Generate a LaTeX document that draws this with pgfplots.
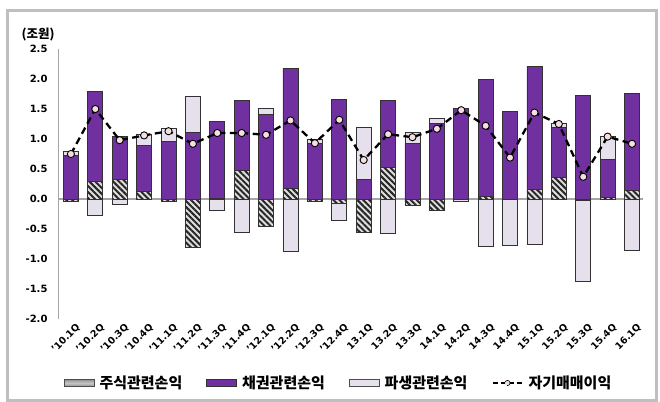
\documentclass[border=0pt]{standalone}
\usepackage{fontspec}
\setmainfont{DejaVu Sans}
\newfontfamily\kr{Noto Sans CJK KR}
\usepackage{pgfplots}
\pgfplotsset{compat=1.18}
\usepackage{pgfplotstable}
\usetikzlibrary{patterns.meta}
\definecolor{bondc}{RGB}{112,48,160}
\definecolor{derivc}{RGB}{230,224,236}
\definecolor{markc}{RGB}{245,222,222}
\definecolor{framec}{RGB}{191,191,191}
\definecolor{axisc}{RGB}{165,165,165}
\definecolor{edgec}{RGB}{50,50,50}

% sp/bp/dp: positive parts (stock, bond, derivatives); sn/dn: negative parts; tot: trading profit
\pgfplotstableread{
x sp bp dp sn dn tot
0 0 0.72 0.08 -0.04 0 0.75
1 0.29 1.50 0 0 -0.28 1.50
2 0.33 0.72 0 0 -0.09 0.98
3 0.13 0.76 0.18 0 0 1.06
4 0 0.96 0.22 -0.04 0 1.13
5 0 1.11 0.60 -0.80 0 0.92
6 0.01 1.28 0 0 -0.19 1.10
7 0.48 1.16 0 0 -0.55 1.10
8 0 1.41 0.10 -0.45 0 1.07
9 0.17 2.01 0 0 -0.87 1.31
10 0 0.92 0.07 -0.04 0 0.93
11 0 1.66 0 -0.08 -0.28 1.32
12 0 0.33 0.86 -0.55 0 0.65
13 0.53 1.11 0 0 -0.57 1.08
14 0 0.92 0.19 -0.10 0 1.03
15 0 1.26 0.08 -0.19 0 1.17
16 0 1.51 0 0 -0.04 1.48
17 0.05 1.95 0 0 -0.79 1.22
18 0 1.46 0 -0.01 -0.77 0.69
19 0.16 2.05 0 0 -0.76 1.44
20 0.36 0.83 0.07 0 0 1.25
21 0 1.73 0 -0.03 -1.34 0.37
22 0.03 0.63 0.39 0 0 1.04
23 0.14 1.62 0 0 -0.85 0.92
}\datatable

\pgfplotsset{
  common/.style={
    scale only axis, width=585pt, height=270pt,
    at={(58pt,-319pt)}, anchor=south west,
    xmin=-0.53, xmax=23.45, ymin=-2, ymax=2.5,
  },
  stockbar/.style={draw=edgec, line width=0.7pt, fill=gray!25,
    postaction={pattern={Lines[angle=-45,distance=4.2pt,line width=2pt]}, pattern color=black!85}},
  bondbar/.style={draw=edgec, line width=0.7pt, fill=bondc},
  derivbar/.style={draw=edgec, line width=0.7pt, fill=derivc},
}

\begin{document}
\begin{tikzpicture}[x=1pt,y=1pt]
\useasboundingbox (0,0) rectangle (660,-401);
\draw[framec, line width=2.5pt] (7.5,-10.5) rectangle (656.5,-400.5);
\node[font=\kr\bfseries\fontsize{12.5}{14}\selectfont] at (38,-35) {(조원)};

% positive stack with axis decorations
\begin{axis}[common,
  ybar stacked, bar width=15pt,
  axis lines*=left,
  x axis line style={draw=none},
  y axis line style={axisc, line width=1pt},
  major tick length=0pt,
  ytick={-2,-1.5,-1,-0.5,0,0.5,1,1.5,2,2.5},
  yticklabels={-2.0,-1.5,-1.0,-0.5,0.0,0.5,1.0,1.5,2.0,2.5},
  yticklabel style={font=\bfseries\fontsize{10}{12}\selectfont, xshift=-7pt},
  xtick={0,...,23},
  xticklabels={'10.1Q,'10.2Q,'10.3Q,'10.4Q,'11.1Q,'11.2Q,'11.3Q,'11.4Q,'12.1Q,'12.2Q,'12.3Q,'12.4Q,13.1Q,13.2Q,13.3Q,14.1Q,14.2Q,14.3Q,14.4Q,15.1Q,15.2Q,15.3Q,15.4Q,16.1Q},
  xticklabel style={font=\bfseries\fontsize{9.5}{11}\selectfont, rotate=45, anchor=east, yshift=-10pt, xshift=4pt},
  extra y ticks={0}, extra y tick labels={},
  extra y tick style={grid=major, major grid style={axisc, line width=1.5pt}},
]
\addplot[stockbar] table[x=x, y=sp] {\datatable};
\addplot[bondbar] table[x=x, y=bp] {\datatable};
\addplot[derivbar] table[x=x, y=dp] {\datatable};
\end{axis}

% negative stack
\begin{axis}[common, hide axis, ybar stacked, bar width=15pt]
\addplot[stockbar] table[x=x, y=sn] {\datatable};
\addplot[derivbar] table[x=x, y=dn] {\datatable};
\end{axis}

% line and legend
\begin{axis}[common, hide axis,
  legend style={draw=none, fill=none, legend columns=-1,
    at={(0.4795,-0.237)}, anchor=center,
    font=\kr\bfseries\fontsize{15}{17}\selectfont,
    /tikz/every even column/.append style={column sep=22pt},
    /tikz/every odd column/.append style={column sep=3pt}},
]
\addlegendimage{legend image code/.code={\draw[draw=black!70, line width=0.8pt, top color=gray!85, bottom color=gray!85, middle color=gray!45] (0pt,-3.5pt) rectangle (30pt,3.5pt);}}
\addlegendentry{주식관련손익}
\addlegendimage{legend image code/.code={\draw[draw=black!80, line width=0.8pt, fill=bondc] (0pt,-3.5pt) rectangle (30pt,3.5pt);}}
\addlegendentry{채권관련손익}
\addlegendimage{legend image code/.code={\draw[draw=black!70, line width=0.8pt, fill=derivc] (0pt,-3.5pt) rectangle (30pt,3.5pt);}}
\addlegendentry{파생관련손익}
\addplot[black, line width=2.3pt, dash pattern=on 7pt off 4.5pt,
  mark=*, mark size=3.6pt, mark options={solid, fill=markc, draw=black, line width=0.9pt},
  legend image code/.code={\draw[black, line width=2pt, dash pattern=on 5pt off 3pt] (0pt,0pt)--(30pt,0pt); \draw[black, fill=markc, line width=0.6pt] (15pt,0pt) circle (2.6pt);}]
  table[x=x, y=tot] {\datatable};
\addlegendentry{자기매매이익}
\end{axis}
\end{tikzpicture}
\end{document}
